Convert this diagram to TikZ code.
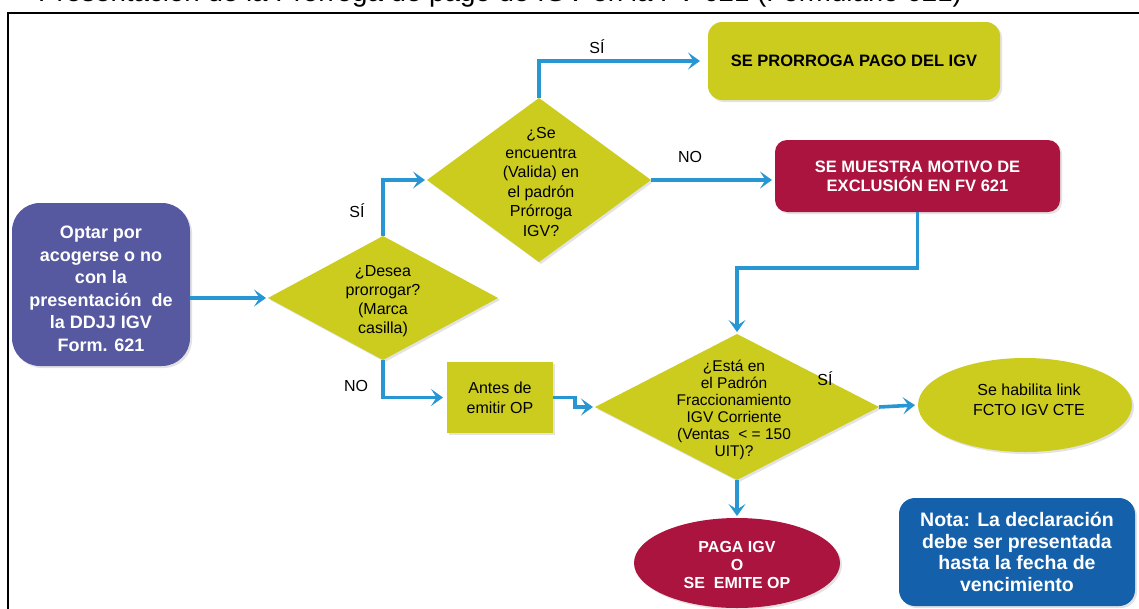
\documentclass[tikz,border=0pt]{standalone}
\usepackage{fontspec}
\setmainfont{Liberation Sans}
\usetikzlibrary{shapes.geometric,arrows.meta,shadows}
\definecolor{ylw}{RGB}{204,204,30}
\definecolor{crim}{RGB}{170,20,62}
\definecolor{purp}{RGB}{86,88,160}
\definecolor{notab}{RGB}{20,96,170}
\definecolor{arrc}{RGB}{40,150,210}
\newcommand{\fsz}[2]{\fontsize{#1}{#2}\selectfont}
\begin{document}
\begin{tikzpicture}[x=1pt,y=-1pt,
  shd/.style={drop shadow={opacity=0.22,shadow xshift=2pt,shadow yshift=-2pt}},
  box/.style={rectangle, inner sep=0pt, outer sep=0pt, align=center, shd},
  dia/.style={diamond, fill=ylw, inner sep=0pt, outer sep=0pt, shd},
  ell/.style={ellipse, inner sep=0pt, outer sep=0pt, shd},
  dtext/.style={align=center, inner sep=0pt},
  lbl/.style={font=\fsz{16}{19}, inner sep=0pt},
  arr/.style={draw=arrc, line width=3.6pt, shorten >=2pt, -{Stealth[length=12pt,width=17pt,inset=5.5pt]}},
]
\useasboundingbox (0,0) rectangle (1139,608);
\clip (0,0) rectangle (1139,608);
\fill[white] (0,0) rectangle (1139,608);

% cut-off title and frame
\node[anchor=base west, inner sep=0pt, font=\fsz{27.7}{30}] (title) at (38,1) {Presentación de la Prórroga de pago de IGV en la FV 621 (Formulario 621)};
\draw[line width=2pt] (8,610) -- (8,13) -- (1141,13);

% nodes
\node[box, fill=purp, rounded corners=28pt, minimum width=178pt, minimum height=163pt] (b0) at (101,284.5) {};
\node[dtext, text=white, font=\bfseries\fsz{18}{22.5}] (b0t) at (101,289) {Optar por\\acogerse o no\\con la\\presentación~ de\\la DDJJ IGV\\Form. 621};

\node[dia, minimum width=230pt, minimum height=124pt] (d1) at (383,298) {};
\node[dtext, font=\fsz{16}{19}] (d1t) at (383,301) {¿Desea\\prorrogar?\\(Marca\\casilla)};

\node[dia, minimum width=224pt, minimum height=164pt] (d2) at (539,180) {};
\node[dtext, font=\fsz{16}{19.5}] (d2t) at (541,182) {¿Se\\encuentra\\(Valida) en\\el padrón\\Prórroga\\IGV?};

\node[box, fill=ylw, rounded corners=14pt, minimum width=292pt, minimum height=78pt, font=\bfseries\fsz{16.5}{20}] (b3) at (854,61) {SE PRORROGA PAGO DEL IGV};

\node[box, fill=crim, text=white, rounded corners=12pt, minimum width=285pt, minimum height=72pt, font=\bfseries\fsz{16.5}{19}] (b4) at (917.5,176) {SE MUESTRA MOTIVO DE\\EXCLUSIÓN EN FV 621};

\node[box, fill=ylw, minimum width=106pt, minimum height=71pt, font=\fsz{16}{20}] (b5) at (500,397.5) {Antes de\\emitir OP};

\node[dia, minimum width=284pt, minimum height=146pt] (d3) at (737,407) {};
\node[dtext, font=\fsz{15.5}{17}] (d3t) at (734,410) {¿Está en\\el Padrón\\Fraccionamiento\\IGV Corriente\\(Ventas~ < = 150\\UIT)?};

\node[ell, fill=ylw, minimum width=214pt, minimum height=94pt] (e1) at (1025,405) {};
\node[dtext, font=\fsz{16}{20}] (e1t) at (1029,400) {Se habilita link\\FCTO IGV CTE};

\node[ell, fill=crim, minimum width=206pt, minimum height=90pt] (e2) at (737,563) {};
\node[dtext, text=white, font=\bfseries\fsz{16}{18}] (e2t) at (737,565) {PAGA IGV\\O\\SE~ EMITE OP};

\node[box, fill=notab, text=white, rounded corners=16pt, minimum width=236pt, minimum height=108pt, font=\bfseries\fsz{19.5}{21.7}] (n) at (1017,552) {Nota: La declaración\\debe ser presentada\\hasta la fecha de\\vencimiento};

% labels
\node[lbl] (l1) at (357,211) {SÍ};
\node[lbl] (l2) at (356,386) {NO};
\node[lbl] (l3) at (597,47) {SÍ};
\node[lbl] (l4) at (690,157) {NO};
\node[lbl] (l5) at (825,379) {SÍ};

% connectors
\draw[arr] (d1.west -| b0.east) -- (d1.west);
\draw[arr] (d1.north) |- (d2.west);
\draw[arr] (d1.south) |- ([xshift=-2pt]b5.west);
\draw[arr] (d2.north) |- ([xshift=-6pt]b3.west);
\draw[arr] (d2.east) -- ([xshift=-1pt]d2.east -| b4.west);
\draw[arr] (b4.south) -- ++(0,56) -| (d3.north);
\draw[arr] (b5.east) -- ++(22,0) |- (d3.west);
\draw[arr] (d3.east) -- ([xshift=-1pt]e1.west);
\draw[arr] (d3.south) -- (e2.north);
\end{tikzpicture}
\end{document}
